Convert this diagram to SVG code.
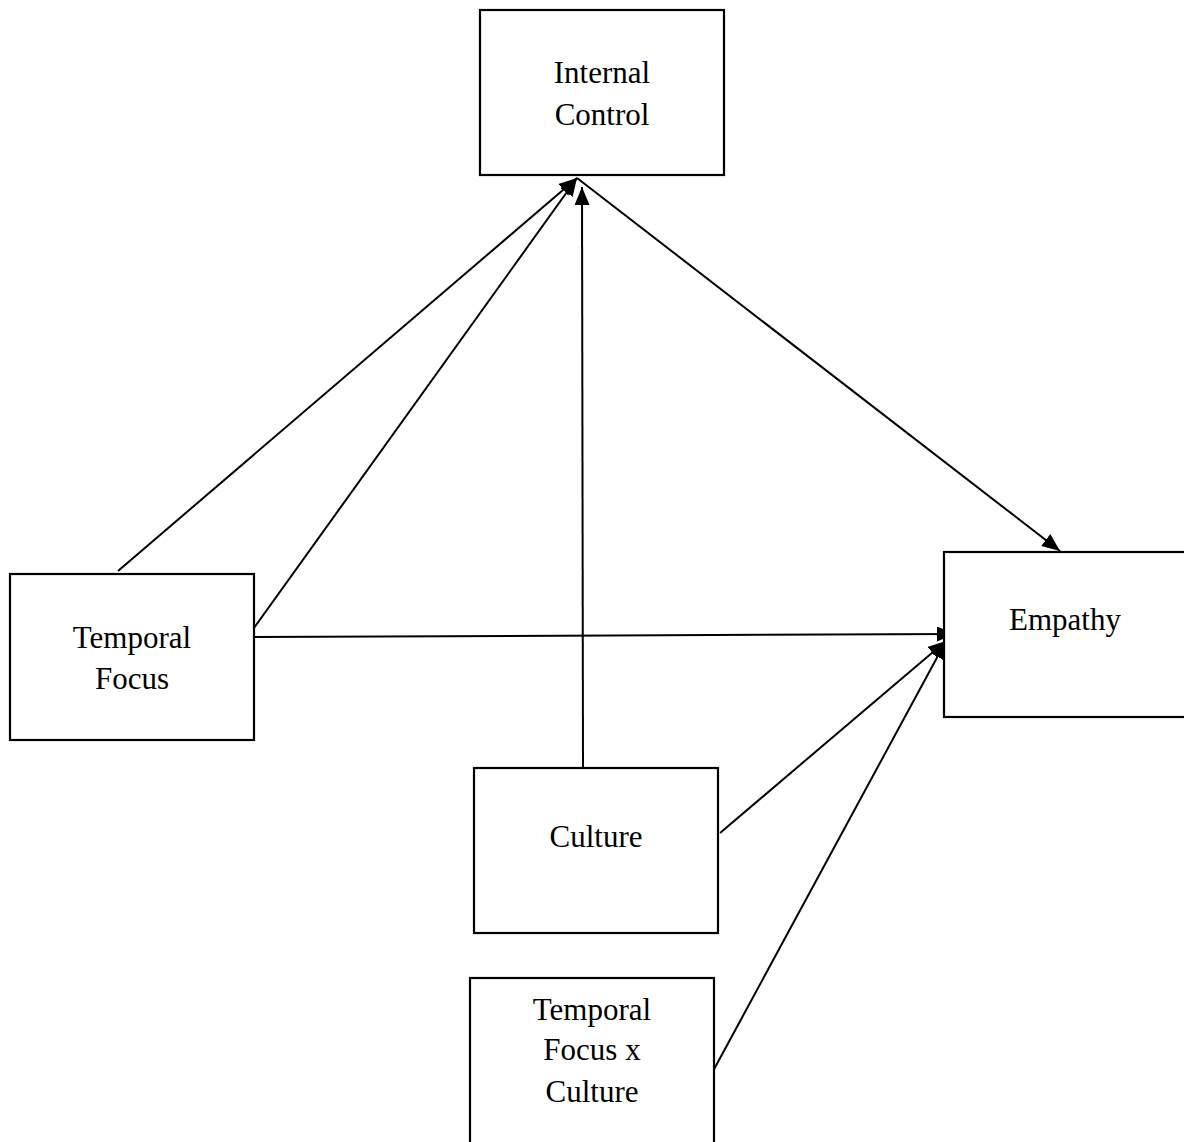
<svg xmlns="http://www.w3.org/2000/svg" width="1184" height="1142" viewBox="0 0 1184 1142">
<style>
.box{fill:#fff;stroke:#000;stroke-width:2.2}
.lbl{font-family:"Liberation Serif","Times New Roman",serif;font-size:31px;fill:#000;text-anchor:middle}
.con{stroke:#000;stroke-width:2;fill:none;marker-end:url(#ah)}
</style>
<defs>
<marker id="ah" markerUnits="userSpaceOnUse" markerWidth="20" markerHeight="16" refX="18" refY="7.5" orient="auto">
<path d="M0,0 L18,7.5 L0,15 z" fill="#000"/>
</marker>
</defs>
<rect width="1184" height="1142" fill="#fff"/>
<g id="connectors">
<line class="con" x1="118" y1="571" x2="577" y2="178"/>
<line class="con" x1="254" y1="628" x2="577" y2="178"/>
<line class="con" x1="583" y1="768" x2="582" y2="187"/>
<line class="con" x1="577" y1="178" x2="1060" y2="551"/>
<line class="con" x1="250" y1="637" x2="955" y2="634"/>
<line class="con" x1="720" y1="833" x2="946" y2="641"/>
<line class="con" x1="712" y1="1073" x2="946" y2="641"/>
</g>
<g id="internal-control">
<rect class="box" x="480" y="10" width="244" height="165"/>
<text class="lbl" x="602" y="83">Internal</text>
<text class="lbl" x="602" y="125">Control</text>
</g>
<g id="empathy">
<rect class="box" x="944" y="552" width="250" height="165"/>
<text class="lbl" x="1065" y="630">Empathy</text>
</g>
<g id="temporal-focus">
<rect class="box" x="10" y="574" width="244" height="166"/>
<text class="lbl" x="132" y="648">Temporal</text>
<text class="lbl" x="132" y="689">Focus</text>
</g>
<g id="culture">
<rect class="box" x="474" y="768" width="244" height="165"/>
<text class="lbl" x="596" y="847">Culture</text>
</g>
<g id="temporal-focus-x-culture">
<rect class="box" x="470" y="978" width="244" height="180"/>
<text class="lbl" x="592" y="1020">Temporal</text>
<text class="lbl" x="592" y="1060">Focus x</text>
<text class="lbl" x="592" y="1102">Culture</text>
</g>
</svg>
